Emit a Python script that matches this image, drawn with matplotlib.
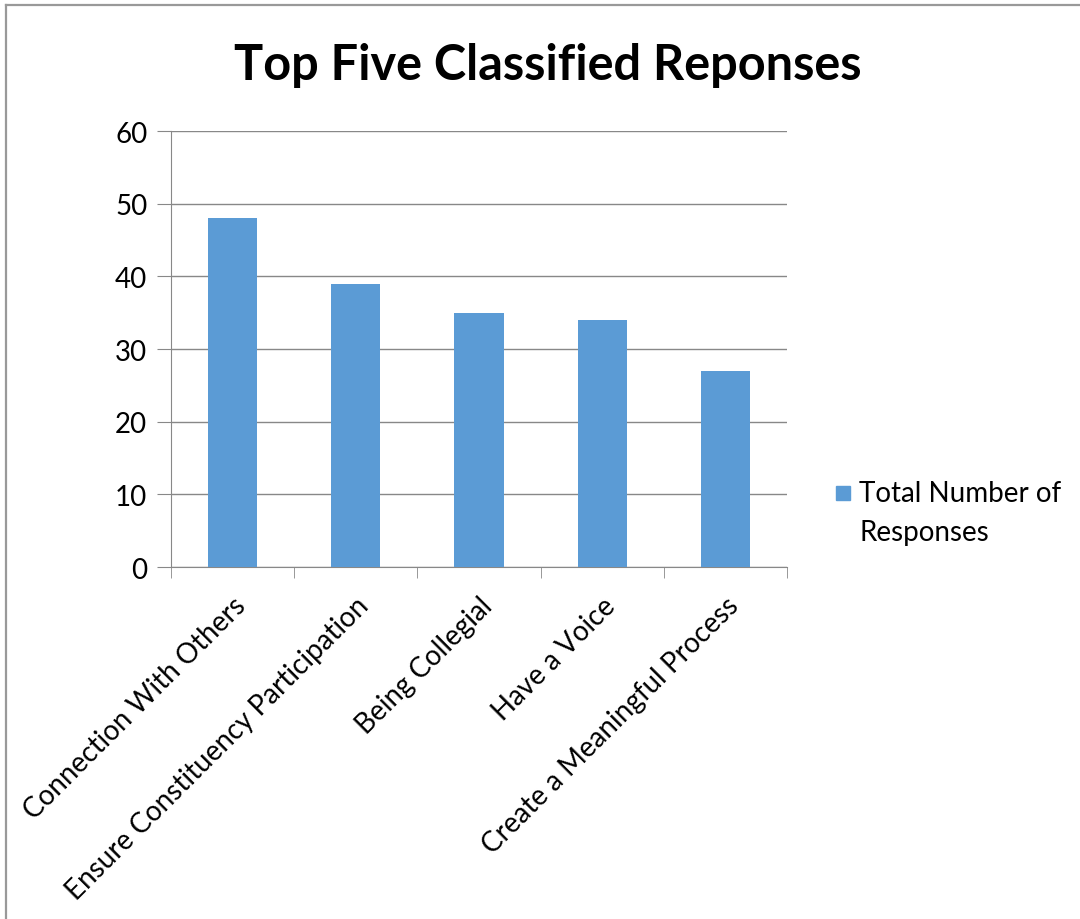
import matplotlib
matplotlib.use("Agg")
import matplotlib.pyplot as plt
from matplotlib.lines import Line2D
from matplotlib.patches import Rectangle
import numpy as np

categories = ["Connection With Others", "Ensure Constituency Participation",
              "Being Collegial", "Have a Voice", "Create a Meaningful Process"]
responses = [48, 39, 35, 34, 27]
series_name = "Total Number of\nResponses"
title = "Top Five Classified Reponses"
y_ticks = [0, 10, 20, 30, 40, 50, 60]

plt.rcParams['font.family'] = ['Lato', 'DejaVu Sans']

fig = plt.figure(figsize=(10.8, 9.2), dpi=100)

# chart-area frame: top and left edges
frame_y = 1 - 5.5 / 920
frame_x = 5.5 / 1080
fig.lines.append(Line2D([frame_x, 1.0], [frame_y, frame_y], transform=fig.transFigure,
                        color="#999999", linewidth=1.6))
fig.lines.append(Line2D([frame_x, frame_x], [0.0, frame_y], transform=fig.transFigure,
                        color="#999999", linewidth=1.6))

ax = fig.add_axes([0.1583, 0.3826, 0.5704, 0.4739])
x = np.arange(len(categories))
ax.bar(x, responses, width=0.4, color="#5B9BD5", zorder=3)

ax.set_xlim(-0.5, len(categories) - 0.5)
ax.set_ylim(0, 60)
ax.set_yticks(y_ticks)
ax.yaxis.grid(True, color="#888888", linewidth=1.0, zorder=0)
for s in ["top", "right"]:
    ax.spines[s].set_visible(False)
ax.spines["left"].set_color("#888888")
ax.spines["bottom"].set_color("#888888")
ax.tick_params(axis="y", length=10, color="#888888", labelsize=20, pad=7)
ax.tick_params(axis="x", which="major", length=0, labelsize=20, pad=18)

# category boundary tick marks
ax.set_xticks(np.arange(-0.5, len(categories)), minor=True)
ax.tick_params(axis="x", which="minor", length=8, color="#888888", direction="out")
ax.set_xticks(x)
ax.set_xticklabels(categories, rotation=45, ha="right", rotation_mode="anchor")

fig.text(548 / 1080, 1 - 65 / 920, title, ha="center", va="center",
         fontsize=35, fontweight="bold")

# legend
fig.patches.append(Rectangle((836 / 1080, 1 - 501 / 920), 14 / 1080, 14 / 920,
                             transform=fig.transFigure, color="#5B9BD5"))
fig.text(859 / 1080, 1 - 481 / 920, series_name, ha="left", va="top", fontsize=20,
         linespacing=1.6, transform=fig.transFigure)

fig.savefig("out.png", dpi=100)
